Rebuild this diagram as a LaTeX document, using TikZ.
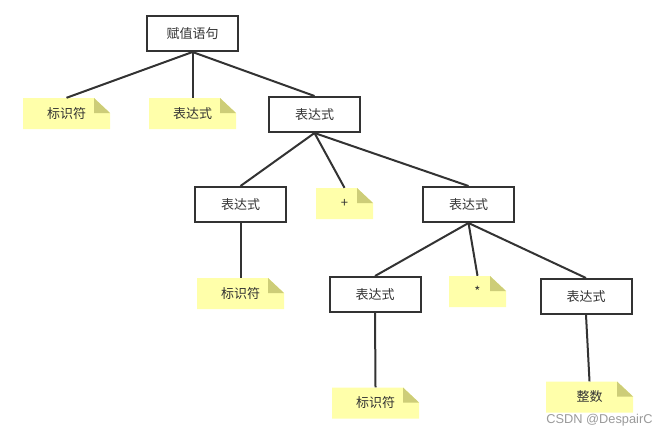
\documentclass[tikz,border=0pt]{standalone}
\usepackage{fontspec}
\setmainfont{Liberation Sans}
\newfontfamily\cjk{Noto Sans CJK SC}
\definecolor{ink}{HTML}{333333}
\definecolor{notefill}{HTML}{FFFFAA}
\definecolor{foldfill}{HTML}{CDCD78}
\definecolor{wm}{HTML}{9A9A9A}
\tikzset{
  box/.style={draw=ink, line width=2pt, minimum width=91pt, minimum height=35pt,
    inner sep=0pt, text=ink, font=\cjk\fontsize{13pt}{15pt}\selectfont},
  note/.style={minimum width=#1, minimum height=31pt, inner sep=0pt, text=ink,
    font=\cjk\fontsize{13pt}{15pt}\selectfont,
    path picture={
      \fill[notefill] (path picture bounding box.south west) -- (path picture bounding box.north west)
        -- ([xshift=-16pt]path picture bounding box.north east)
        -- ([yshift=-15pt]path picture bounding box.north east)
        -- (path picture bounding box.south east) -- cycle;
      \fill[foldfill] ([xshift=-16pt]path picture bounding box.north east)
        -- ([xshift=-16pt,yshift=-15pt]path picture bounding box.north east)
        -- ([yshift=-15pt]path picture bounding box.north east) -- cycle;
    }},
  note/.default=87pt,
  edge/.style={draw=ink, line width=2pt}
}
\begin{document}
\begin{tikzpicture}[x=1pt, y=-1pt]
\useasboundingbox (0,0) rectangle (668,437);
\node[box] (root) at (192.5,33.5) {赋值语句};
\node[note] (id1) at (66.5,113.5) {标识符};
\node[note] (ex1) at (192.5,113.5) {表达式};
\node[box] (e1) at (314.5,114.5) {表达式};
\node[box] (e2) at (240.5,204.5) {表达式};
\node[note=57pt] (plus) at (344.5,203.5) {+};
\node[box] (e3) at (468.5,204.5) {表达式};
\node[note] (id2) at (240.5,293.5) {标识符};
\node[box] (e4) at (375,294.5) {表达式};
\node[note=57pt] (times) at (477.5,291.5) {*};
\node[box] (e5) at (586,296.5) {表达式};
\node[note] (id3) at (375.5,403) {标识符};
\node[note] (int) at (589.5,397) {整数};
\node[text=wm, font=\fontsize{12.8pt}{14pt}\selectfont, inner sep=0pt] (wmk) at (599.5,420) {CSDN @DespairC};
\draw[edge] (root.south) -- (id1.north);
\draw[edge] (root.south) -- (ex1.north);
\draw[edge] (root.south) -- (e1.north);
\draw[edge] (e1.south) -- (e2.north);
\draw[edge] (e1.south) -- (plus.north);
\draw[edge] (e1.south) -- (e3.north);
\draw[edge] (e2.south) -- (id2.north);
\draw[edge] (e3.south) -- (e4.north);
\draw[edge] (e3.south) -- (times.north);
\draw[edge] (e3.south) -- (e5.north);
\draw[edge] (e4.south) -- (id3.north);
\draw[edge] (e5.south) -- (int.north);
\end{tikzpicture}
\end{document}
